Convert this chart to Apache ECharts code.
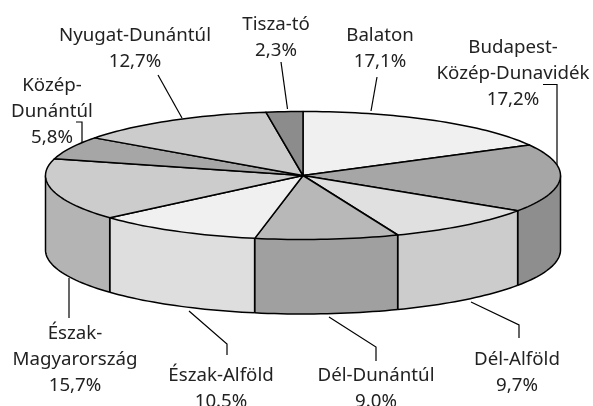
<!DOCTYPE html>
<html><head><meta charset="utf-8">
<style>html,body{margin:0;padding:0;background:#fff}#c{width:593px;height:406px}</style>
<script src="https://cdn.jsdelivr.net/npm/echarts@6/dist/echarts.min.js"></script>
</head><body><div id="c"></div>
<script>
const regions = ['Balaton','Budapest-\nKözép-Dunavidék','Dél-Alföld','Dél-Dunántúl','Észak-Alföld','Észak-\nMagyarország','Közép-\nDunántúl','Nyugat-Dunántúl','Tisza-tó'];
const shares = [17.1,17.2,9.7,9.0,10.5,15.7,5.8,12.7,2.3];
const shareLabels = ['17,1%','17,2%','9,7%','9.0%','10.5%','15,7%','5,8%','12,7%','2,3%'];
const topColors = ['#f0f0f0','#a6a6a6','#e0e0e0','#b8b8b8','#f0f0f0','#cccccc','#a6a6a6','#cccccc','#8c8c8c'];
const sideColors = ['#d0d0d0','#8e8e8e','#cccccc','#a0a0a0','#dedede','#b4b4b4','#888888','#b0b0b0','#777777'];
const labelCenters = [[380,49],[513,74],[517,373],[376,389],[221,389],[75,360],[52,112],[135,48.5],[276,38]];
const leaders = [[[377,77],[371,111]],[[543,84.5],[557,84.5],[557,165]],[[471,302],[519,325],[519,338]],
  [[329,317],[376,347],[376,361]],[[189,311],[227,344],[227,355]],[[69,278],[69,318]],[[76,122],[82,122],[82,143]],
  [[158,75],[182,118]],[[281,62],[287.5,109]]];
const cx=303, cy=175.5, rx=257.5, ry=64, depth=74.5;
const FONT='"Noto Sans"';
const total=shares.reduce((a,b)=>a+b,0);
function angles(i){let s=0;for(let k=0;k<i;k++)s+=shares[k];return [s/total*360,(s+shares[i])/total*360];}
function pt(a,d){const r=a*Math.PI/180;return [cx+rx*Math.sin(r),cy-ry*Math.cos(r)+(d||0)];}
function arc(a,b,d){const n=Math.max(2,Math.ceil((b-a)/1.5));const p=[];for(let i=0;i<=n;i++)p.push(pt(a+(b-a)*i/n,d));return p;}
const sideSeries={type:'custom',coordinateSystem:'none',silent:true,z:1,data:shares,
 renderItem(params){const [a0,b0]=angles(params.dataIndex);const a=Math.max(a0,90),b=Math.min(b0,270);
  if(a>=b)return {type:'group',children:[]};
  const t=arc(a,b,0),u=arc(a,b,depth).reverse();
  const kids=[
   {type:'polygon',shape:{points:t.concat(u)},style:{fill:sideColors[params.dataIndex],stroke:null}},
   {type:'polyline',shape:{points:u},style:{fill:null,stroke:'#000',lineWidth:1.5}}];
  if(a0>=90)kids.push({type:'line',shape:{x1:t[0][0],y1:t[0][1],x2:t[0][0],y2:t[0][1]+depth},style:{stroke:'#000',lineWidth:1.8}});
  return {type:'group',children:kids};}};
const edgeSeries={type:'custom',coordinateSystem:'none',silent:true,z:2,data:[0,1],
 renderItem(params){const p=pt(params.dataIndex?90:270,0);
  return {type:'line',shape:{x1:p[0],y1:p[1],x2:p[0],y2:p[1]+depth},style:{stroke:'#000',lineWidth:1.5}};}};
const topSeries={type:'custom',coordinateSystem:'none',silent:true,z:3,data:shares,
 renderItem(params){const [a,b]=angles(params.dataIndex);
  return {type:'polygon',shape:{points:[[cx,cy]].concat(arc(a,b,0))},style:{fill:topColors[params.dataIndex],stroke:'#000',lineWidth:1.5,lineJoin:'round'}};}};
const labelSeries={type:'custom',coordinateSystem:'none',silent:true,z:4,data:shares,
 renderItem(params){const i=params.dataIndex;
  return {type:'group',children:[
   {type:'polyline',shape:{points:leaders[i]},style:{fill:null,stroke:'#000',lineWidth:1.2}},
   {type:'text',x:labelCenters[i][0],y:labelCenters[i][1],style:{text:regions[i]+'\n'+shareLabels[i],font:'18.7px '+FONT,lineHeight:25.9,fill:'#222',align:'center',verticalAlign:'middle'}}
  ]};}};
const chart=echarts.init(document.getElementById('c'),null,{renderer:'canvas'});
chart.setOption({animation:false,backgroundColor:'#fff',series:[sideSeries,edgeSeries,topSeries,labelSeries]});
</script></body></html>
